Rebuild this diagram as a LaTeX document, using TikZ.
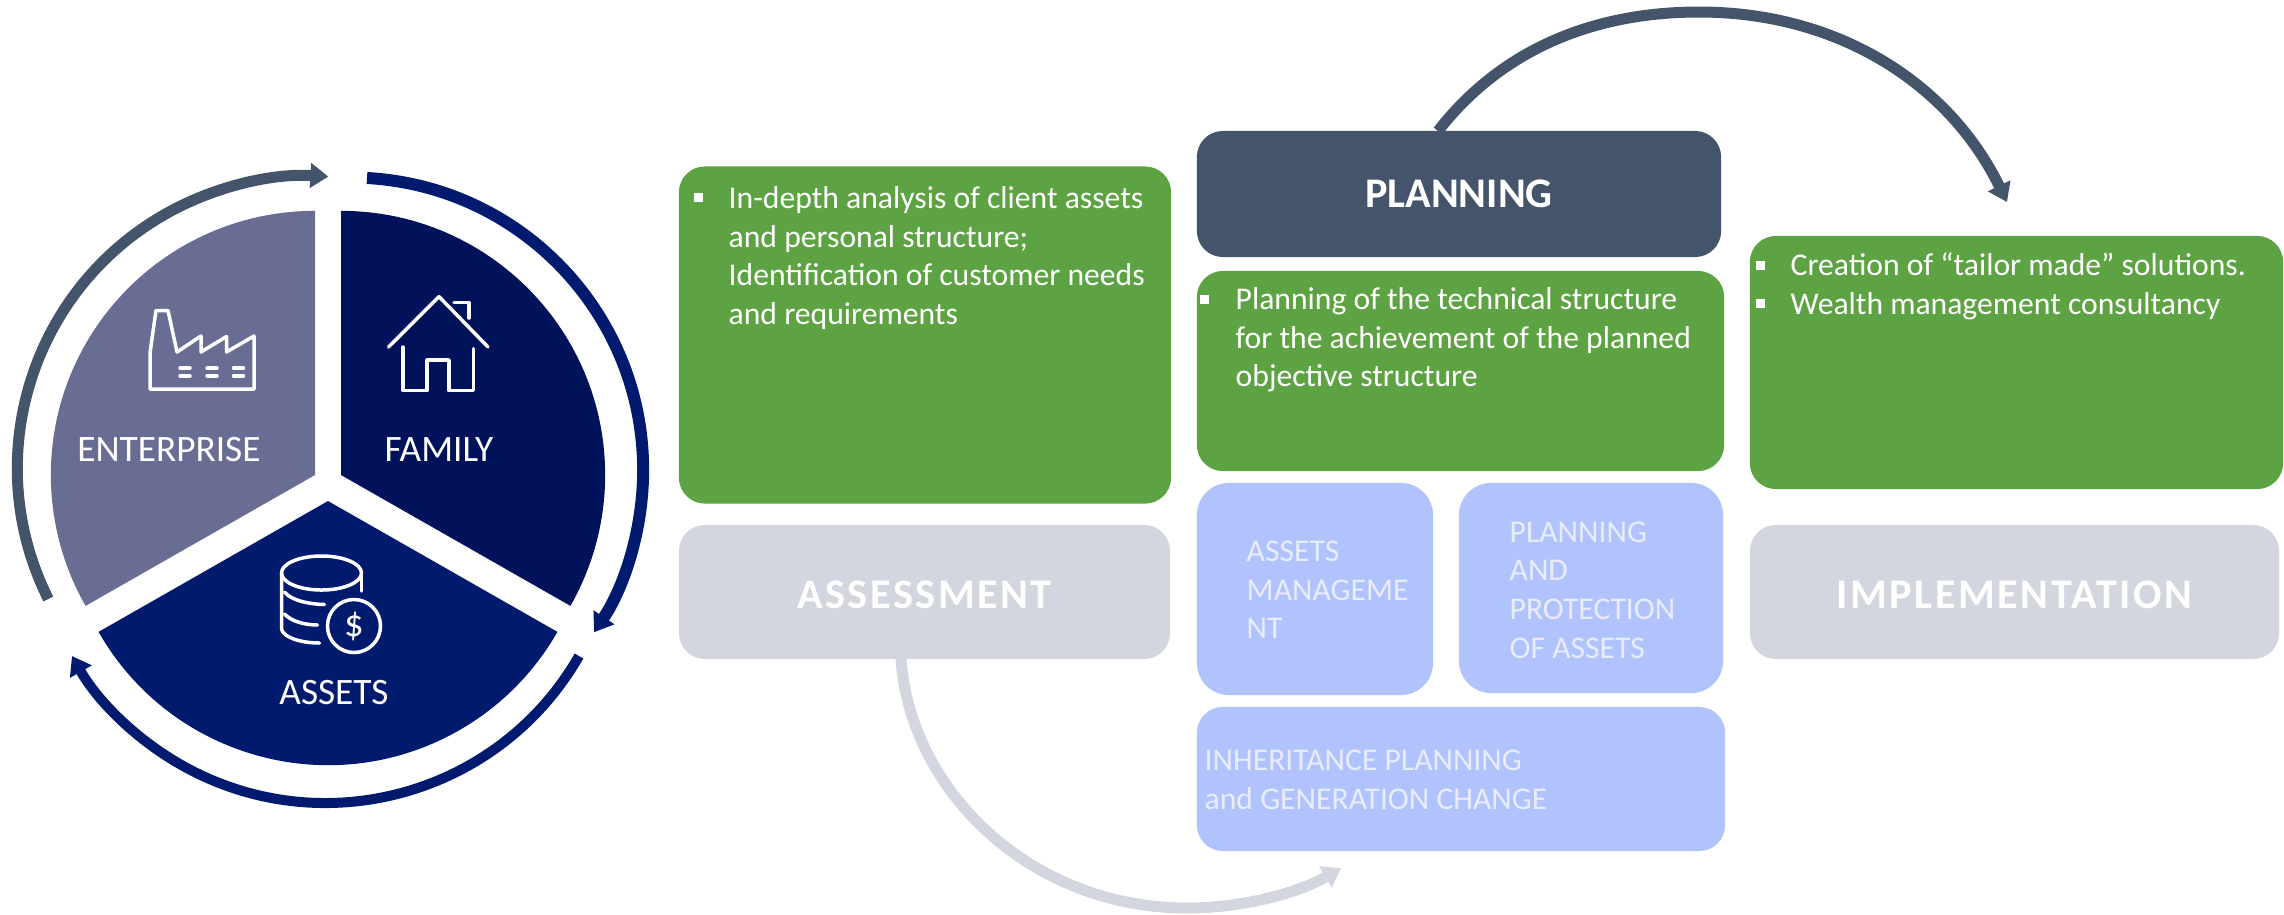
\documentclass[tikz,border=0pt]{standalone}
\usepackage{fontspec}
\setmainfont{Carlito}
\newfontfamily\spacedfont[LetterSpace=6]{Carlito}
\usepackage{tikz}
\usetikzlibrary{arrows.meta}
\usetikzlibrary{positioning}
\definecolor{SlateColor}{HTML}{44546A}
\definecolor{NavyColor}{HTML}{00125A}
\definecolor{AssetsColor}{HTML}{001A6E}
\definecolor{RingColor}{HTML}{001A70}
\definecolor{EnterpriseColor}{HTML}{6A6D93}
\definecolor{GreenColor}{HTML}{5EA343}
\definecolor{PaleBlue}{HTML}{B0C3FD}
\definecolor{PaleGrey}{HTML}{D3D6DE}
\definecolor{PaleText}{HTML}{E8ECFC}
\tikzset{
  card/.style={rectangle, inner sep=0pt, rounded corners=0.26cm},
  bodytext/.style={anchor=west, align=left, inner sep=0pt, text=white, font=\fontsize{9}{11}\selectfont},
  boxtext/.style={anchor=west, align=left, inner sep=0pt, text=PaleText, font=\fontsize{9}{11}\selectfont},
  pielabel/.style={inner sep=0pt, text=white, font=\fontsize{10.6}{12}\selectfont},
  bulletmark/.style={rectangle, fill=white, inner sep=0pt, minimum size=0.09cm},
  ringarrow/.style={line width=0.11cm, -{Triangle[length=0.18cm,width=0.24cm]}},
  icon/.style={white, line width=0.035cm, line join=round, line cap=round}
}

\begin{document}
\begin{tikzpicture}[x=0.01cm, y=-0.01cm]
  \useasboundingbox (0,0) rectangle (2284,914);

  % pie
  \foreach \cx/\cy/\a/\b/\c in {315/475/90/209.7/EnterpriseColor, 341/475/90/-29.7/NavyColor, 328/501/209.7/330.3/AssetsColor} {
    \fill[\c] (\cx,\cy) -- ++(\a:2.64cm) arc[start angle=\a, end angle=\b, radius=2.64cm] -- cycle;
  }
  \node[pielabel] (enterprise) at (169,450) {ENTERPRISE};
  \node[pielabel] (family) at (439,450) {FAMILY};
  \node[pielabel] (assets) at (334,693) {ASSETS};

  % ring arrows
  \coordinate (ringLeft) at (48.3,599);
  \coordinate (ringRight) at (367,178);
  \coordinate (ringBottom) at (579,656);
  \draw[ringarrow, SlateColor] (ringLeft) arc[start angle=206.6, end angle=86.3, radius=2.92cm];
  \draw[ringarrow, RingColor, line width=0.12cm] (ringRight) arc[start angle=86.8, end angle=-33.7, radius=2.923cm];
  \draw[ringarrow, RingColor, line width=0.10cm] (ringBottom) arc[start angle=-29.8, end angle=-150.2, radius=2.92cm];

  % factory
  \draw[icon] (150,389) -- (150,353) -- (156,310.5) -- (168,310.5) -- (177,352) -- (201,336) -- (201,352) -- (226.5,336.5) -- (226.5,352) -- (254,336) -- (254,389) -- cycle;
  \foreach \x in {180,207,233.5} {
    \draw[icon] (\x,368) -- ++(10,0);
    \draw[icon] (\x,376) -- ++(10,0);
  }

  % house
  \draw[icon] (388.5,347) -- (439,296.6) -- (488,347);
  \draw[icon] (403,347) -- (403,390.7) -- (427,390.7) -- (427,360) -- (449,360) -- (449,390.7) -- (473.5,390.7) -- (473.5,348.6);
  \draw[icon] (454,302.6) -- (469,302.6) -- (469,318);

  % coins
  \draw[icon] (321.5,573) ellipse [x radius=0.40cm, y radius=0.17cm];
  \draw[icon] (281.5,573) -- (281.5,629) .. controls (283,637) and (300,643) .. (319.5,643);
  \draw[icon] (361.5,573) -- (361.5,591);
  \draw[icon] (284.5,592) .. controls (291,600) and (307,604) .. (324.5,604.5);
  \draw[icon] (284.5,614) .. controls (291,621) and (304,625) .. (317.5,625);
  \node[icon, draw, circle, inner sep=0pt, minimum size=0.53cm, font=\fontsize{11}{11}\selectfont, text=white] (dollar) at (354,626) {\$};

  % curved arrows, boxes on top of them
  \coordinate (planOut) at (1438,131);
  \coordinate (planIn) at (2007,202);
  \coordinate (assessOut) at (901,659);
  \coordinate (assessIn) at (1341,868);
  \draw[ringarrow, SlateColor] (planOut) .. controls (1505,45) and (1600,12) .. (1699,12) .. controls (1840,12) and (1950,85) .. (planIn);
  \draw[ringarrow, PaleGrey] (assessOut) .. controls (910,790) and (1030,908) .. (1187,908) .. controls (1245,908) and (1300,892) .. (assessIn);

  % left column
  \node[card, fill=GreenColor, minimum width=4.92cm, minimum height=3.37cm] (assessBody) at (925,335) {};
  \node[card, fill=PaleGrey, minimum width=4.91cm, minimum height=1.34cm] (assessment) at (924.5,592) {};
  \node[font=\spacedfont\bfseries\fontsize{12}{14}\selectfont, text=white, inner sep=0pt] (assessTitle) at (924.5,595) {ASSESSMENT};

  % middle column
  \node[card, fill=SlateColor, minimum width=5.24cm, minimum height=1.26cm, font=\bfseries\fontsize{12}{14}\selectfont, text=white] (planning) at (1459,194) {PLANNING};
  \node[card, fill=GreenColor, minimum width=5.27cm, minimum height=2.00cm] (planBody) at (1460.5,371) {};
  \node[card, fill=PaleBlue, minimum width=2.36cm, minimum height=2.12cm, rounded corners=0.32cm] (assetsBox) at (1315,589) {};
  \node[card, fill=PaleBlue, minimum width=2.64cm, minimum height=2.10cm, rounded corners=0.32cm] (protectBox) at (1591,588) {};
  \node[card, fill=PaleBlue, minimum width=5.28cm, minimum height=1.44cm] (inheritBox) at (1461,779) {};

  % right column
  \node[card, fill=GreenColor, minimum width=5.33cm, minimum height=2.53cm] (implBody) at (2016.5,362.5) {};
  \node[card, fill=PaleGrey, minimum width=5.29cm, minimum height=1.34cm] (implementation) at (2014.5,592) {};
  \node[font=\spacedfont\bfseries\fontsize{12}{14}\selectfont, text=white, inner sep=0pt] (implTitle) at (2014.5,595) {IMPLEMENTATION};

  % texts
  \node[bodytext] (assessText) at (728,258) {In-depth analysis of client assets\\and personal structure;\\Identification of customer needs\\and requirements};
  \node[bodytext] (planText) at (1235,340) {Planning of the technical structure\\for the achievement of the planned\\objective structure};
  \node[bodytext] (implText) at (1790,286) {Creation of “tailor made” solutions.\\Wealth management consultancy};
  \node[boxtext] (assetsText) at (1246,590) {ASSETS\\MANAGEME\\NT};
  \node[boxtext] (protectText) at (1509,590) {PLANNING\\AND\\PROTECTION\\OF ASSETS};
  \node[boxtext] (inheritText) at (1204,780) {INHERITANCE PLANNING\\and GENERATION CHANGE};

  \foreach \i/\x/\y in {1/698/197, 2/1204/299, 3/1760/265, 4/1760/303} {
    \node[bulletmark] (bullet\i) at (\x,\y) {};
  }
\end{tikzpicture}
\end{document}
